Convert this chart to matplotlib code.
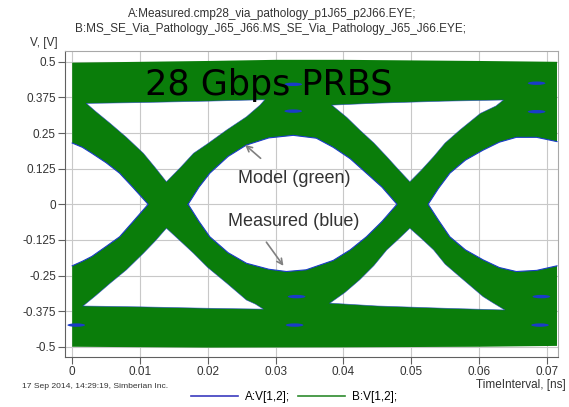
###Eye diagram: measured (blue) vs model (green), 28 Gbps PRBS
import numpy as np
import matplotlib
matplotlib.use('Agg')
import matplotlib.pyplot as plt
from matplotlib.path import Path
from matplotlib.patches import PathPatch, Ellipse
from matplotlib.lines import Line2D

###################################################################
########################## data (ns, V) ###########################
###################################################################
### outer edge of the green band
top_t = [0.0, 0.010, 0.020, 0.030, 0.040, 0.050, 0.060, 0.0715]
top_v = [0.497, 0.500, 0.503, 0.507, 0.507, 0.505, 0.503, 0.500]
bot_t = [0.0715, 0.060, 0.040, 0.020, 0.0]
bot_v = [-0.497, -0.500, -0.502, -0.503, -0.500]

### eye openings
left_open_t = [0.0, 0.0015, 0.0029, 0.0050, 0.0070, 0.0090, 0.0112,
               0.0090, 0.0070, 0.0050, 0.0029, 0.0015, 0.0]
left_open_v = [0.215, 0.200, 0.179, 0.146, 0.109, 0.058, 0.0,
               -0.060, -0.114, -0.148, -0.183, -0.200, -0.216]

main_open_t = [0.0171, 0.0187, 0.0203, 0.0230, 0.0257, 0.0290, 0.0326, 0.0360,
               0.0385, 0.0410, 0.0434, 0.0457, 0.0479,
               0.0457, 0.0434, 0.0410, 0.0385, 0.0345, 0.0316, 0.0290, 0.0257,
               0.0230, 0.0203, 0.0187]
main_open_v = [0.0, 0.060, 0.109, 0.168, 0.208, 0.233, 0.242, 0.232,
               0.200, 0.160, 0.109, 0.060, 0.0,
               -0.060, -0.114, -0.160, -0.197, -0.230, -0.236, -0.228, -0.207,
               -0.170, -0.114, -0.060]

right_open_t = [0.0715, 0.0685, 0.0655, 0.0630, 0.0606, 0.0580, 0.0557, 0.0540, 0.0525,
                0.0540, 0.0557, 0.0580, 0.0606, 0.0630, 0.0655, 0.0685, 0.0715]
right_open_v = [0.220, 0.235, 0.235, 0.218, 0.190, 0.155, 0.109, 0.055, 0.0,
                -0.055, -0.114, -0.160, -0.195, -0.222, -0.236, -0.232, -0.216]

ul_open_t = [0.0021, 0.010, 0.020, 0.0284, 0.0277, 0.0257, 0.0228, 0.0200, 0.0179,
             0.0160, 0.0139, 0.0122, 0.0105, 0.0080, 0.0056, 0.0035]
ul_open_v = [0.354, 0.357, 0.362, 0.367, 0.348, 0.307, 0.261, 0.213, 0.179,
             0.130, 0.079, 0.130, 0.179, 0.235, 0.284, 0.325]

ll_open_t = [0.0016, 0.010, 0.020, 0.0282, 0.0270, 0.0257, 0.0228, 0.0200, 0.0179,
             0.0160, 0.0139, 0.0122, 0.0105, 0.0080, 0.0056, 0.0035]
ll_open_v = [-0.357, -0.360, -0.365, -0.368, -0.350, -0.336, -0.277, -0.222, -0.172,
             -0.130, -0.084, -0.130, -0.172, -0.230, -0.277, -0.320]

ur_open_t = [0.0383, 0.045, 0.055, 0.0636, 0.0625, 0.0602, 0.0572, 0.0550, 0.0533,
             0.0515, 0.0498, 0.0480, 0.0464, 0.0445, 0.0424, 0.0405]
ur_open_v = [0.348, 0.355, 0.362, 0.366, 0.345, 0.319, 0.261, 0.215, 0.167,
             0.120, 0.079, 0.125, 0.167, 0.215, 0.261, 0.305]

lr_open_t = [0.0380, 0.045, 0.055, 0.0638, 0.0620, 0.0606, 0.0572, 0.0550, 0.0533,
             0.0515, 0.0498, 0.0480, 0.0464, 0.0445, 0.0424, 0.0402]
lr_open_v = [-0.347, -0.357, -0.365, -0.371, -0.345, -0.324, -0.255, -0.210, -0.160,
             -0.120, -0.084, -0.125, -0.160, -0.215, -0.265, -0.310]

### small measured-only sub eyes (blue specks)
speck_t = [0.0326, 0.0326, 0.0331, 0.0328, 0.0685, 0.0685, 0.0692, 0.0690, 0.0006]
speck_v = [0.327, 0.421, -0.324, -0.424, 0.425, 0.325, -0.324, -0.424, -0.424]

xticks = [0, 0.01, 0.02, 0.03, 0.04, 0.05, 0.06, 0.07]
xtick_labels = ['0', '0.01', '0.02', '0.03', '0.04', '0.05', '0.06', '0.07']
yticks = [-0.5, -0.375, -0.25, -0.125, 0, 0.125, 0.25, 0.375, 0.5]
ytick_labels = ['-0.5', '-0.375', '-0.25', '-0.125', '0', '0.125', '0.25', '0.375', '0.5']

green = '#0a7d0a'
blue = '#1a3cc8'
font = 'Liberation Sans'

def signed_area(t, v):
    t = np.asarray(t); v = np.asarray(v)
    return 0.5 * np.sum(t * np.roll(v, -1) - np.roll(t, -1) * v)

#============================================
fig = plt.figure(figsize=(5.69, 4.07), dpi=100)
ax = fig.add_axes([65/569, 50/407, 493/569, 306/407])
ax.set_xlim(-0.00106, 0.07165)
ax.set_ylim(-0.536, 0.538)

### green band as one path with the openings as holes (so grid shows through)
outer_t = top_t + bot_t
outer_v = top_v + bot_v
holes = [(left_open_t, left_open_v), (main_open_t, main_open_v),
         (right_open_t, right_open_v), (ul_open_t, ul_open_v),
         (ll_open_t, ll_open_v), (ur_open_t, ur_open_v), (lr_open_t, lr_open_v)]
s_out = np.sign(signed_area(outer_t, outer_v))
verts = list(zip(outer_t, outer_v)) + [(0, 0)]
codes = [Path.MOVETO] + [Path.LINETO] * (len(outer_t) - 1) + [Path.CLOSEPOLY]
for ht, hv in holes:
    pts = list(zip(ht, hv))
    if np.sign(signed_area(ht, hv)) == s_out:
        pts = pts[::-1]
    verts += pts + [(0, 0)]
    codes += [Path.MOVETO] + [Path.LINETO] * (len(pts) - 1) + [Path.CLOSEPOLY]
ax.add_patch(PathPatch(Path(verts, codes), facecolor=green, edgecolor='none', zorder=2))

### blue (measured) edges just around the openings
ax.plot(left_open_t, left_open_v, color=blue, lw=0.8, zorder=3)
ax.plot(right_open_t, right_open_v, color=blue, lw=0.8, zorder=3)
ax.plot(main_open_t + main_open_t[:1], main_open_v + main_open_v[:1], color=blue, lw=0.8, zorder=3)
for ht, hv in holes[3:]:
    ax.plot(list(ht) + [ht[0]], list(hv) + [hv[0]], color=blue, lw=0.5, alpha=0.7, zorder=3)
for t, v in zip(speck_t, speck_v):
    ax.add_patch(Ellipse((t, v), 0.0026, 0.012, facecolor=blue, edgecolor='none', zorder=3))

ax.text(0.0107, 0.3835, '28 Gbps PRBS', fontsize=25.2, family='DejaVu Sans',
        color='black', ha='left', va='baseline', zorder=5)
ax.text(0.0327, 0.092, 'Model (green)', fontsize=13, family=font, color='#333333',
        ha='center', va='center', zorder=5)
ax.text(0.0326, -0.062, 'Measured (blue)', fontsize=13, family=font, color='#333333',
        ha='center', va='center', zorder=5)
ax.annotate('', xy=(0.0252, 0.215), xytext=(0.0281, 0.155),
            arrowprops=dict(arrowstyle='->', color='#808080', lw=1.2), zorder=5)
ax.annotate('', xy=(0.0314, -0.224), xytext=(0.0284, -0.125),
            arrowprops=dict(arrowstyle='->', color='#808080', lw=1.2), zorder=5)

### axes look
ax.set_xticks(xticks)
ax.set_xticklabels(xtick_labels, family=font)
ax.set_yticks(yticks)
ax.set_yticklabels(ytick_labels, family=font)
ax.tick_params(direction='out', length=5, width=0.8, color='#606060',
               labelsize=8.5, labelcolor='#333333', pad=1.5)
ax.grid(True, color='#c8c8c8', lw=0.8, zorder=0)
ax.set_axisbelow(True)
for side in ['left', 'bottom']:
    ax.spines[side].set_color('#606060')
for side in ['top', 'right']:
    ax.spines[side].set_color('#a8a8a8')
for side in ax.spines:
    ax.spines[side].set_linewidth(0.8)

fig.text(272/569, 1 - 14/407, 'A:Measured.cmp28_via_pathology_p1J65_p2J66.EYE;',
         ha='center', va='center', fontsize=8.5, family=font, color='#333333')
fig.text(270/569, 1 - 29/407, 'B:MS_SE_Via_Pathology_J65_J66.MS_SE_Via_Pathology_J65_J66.EYE;',
         ha='center', va='center', fontsize=8.5, family=font, color='#333333')
fig.text(30/569, 1 - 43/407, 'V, [V]', ha='left', va='center', fontsize=8.5,
         family=font, color='#333333')
fig.text(566/569, 1 - 385/407, 'TimeInterval, [ns]', ha='right', va='center',
         fontsize=8.5, family=font, color='#333333')
fig.text(22/569, 1 - 386/407, '17 Sep 2014, 14:29:19, Simberian Inc.', ha='left',
         va='center', fontsize=6.1, family=font, color='#333333')

handles = [Line2D([], [], color='#3b3bbf', lw=1.2), Line2D([], [], color='#2e8b2e', lw=1.2)]
fig.legend(handles, ['A:V[1,2];', 'B:V[1,2];'], loc='center',
           bbox_to_anchor=(294/569, 1 - 397/407), ncol=2, frameon=False,
           handlelength=4.0, handletextpad=0.6, columnspacing=0.6,
           prop={'family': font, 'size': 8.5})

fig.savefig('out.png', dpi=100)
